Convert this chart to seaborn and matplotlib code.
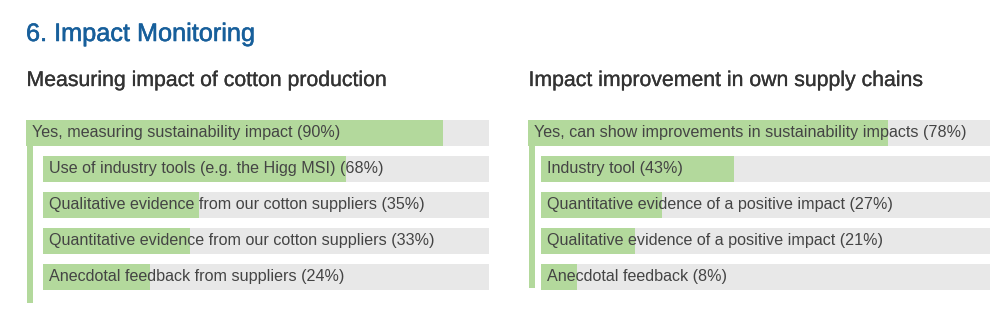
import matplotlib
matplotlib.use("Agg")
import matplotlib.pyplot as plt
import matplotlib.patheffects as pe
import seaborn as sns
import pandas as pd
from matplotlib.patches import Rectangle

sns.set_theme(style="white")
plt.rcParams['font.family'] = ['Liberation Sans', 'DejaVu Sans']

title = "6. Impact Monitoring"

left_title = "Measuring impact of cotton production"
left_top_label = "Yes, measuring sustainability impact"
left_top_value = 90
left_labels = ["Use of industry tools (e.g. the Higg MSI)",
               "Qualitative evidence from our cotton suppliers",
               "Quantitative evidence from our cotton suppliers",
               "Anecdotal feedback from suppliers"]
left_values = [68, 35, 33, 24]

right_title = "Impact improvement in own supply chains"
right_top_label = "Yes, can show improvements in sustainability impacts"
right_top_value = 78
right_labels = ["Industry tool",
                "Quantitative evidence of a positive impact",
                "Qualitative evidence of a positive impact",
                "Anecdotal feedback"]
right_values = [43, 27, 21, 8]

GREEN = "#b3d99c"
GRAY = "#e8e8e8"
TEXT = "#444444"
BLUE = "#175f9b"

W, H = 1004, 329
fig = plt.figure(figsize=(W / 100, H / 100), dpi=100)
fig.patch.set_facecolor("white")


def px_axes(x0, y0, x1, y1):
    return fig.add_axes([x0 / W, 1 - y1 / H, (x1 - x0) / W, (y1 - y0) / H])


def draw_bars(ax, labels, values, nrows, bar_frac):
    df = pd.DataFrame({"label": labels, "value": values, "full": [100] * len(values)})
    sns.barplot(data=df, x="full", y="label", color=GRAY, ax=ax, width=bar_frac,
                orient="h", saturation=1, order=labels, linewidth=0)
    sns.barplot(data=df, x="value", y="label", color=GREEN, ax=ax, width=bar_frac,
                orient="h", saturation=1, order=labels, linewidth=0)
    half = bar_frac / 2
    ax.set_xlim(0, 100)
    ax.set_ylim(nrows - 1 + half, -half)
    ax.axis("off")
    for i, (lab, v) in enumerate(zip(labels, values)):
        ax.annotate(f"{lab} ({v}%)", xy=(0, i), xytext=(6, 0), textcoords="offset pixels",
                    va="center", ha="left", fontsize=11.6, color=TEXT)


def panel(x0, x_sub, x1, ptitle, top_label, top_value, labels, values, stripe_bottom):
    fig.text(x0 / W + 0.0005, 1 - 80.5 / H, ptitle, fontsize=15.3, color="#333333",
             va="center", ha="left",
             path_effects=[pe.withStroke(linewidth=0.2, foreground="#333333")])
    ax_top = px_axes(x0, 120, x1, 146)
    draw_bars(ax_top, [top_label], [top_value], 1, 1.0)
    ax_sub = px_axes(x_sub, 156, x1, 290)
    draw_bars(ax_sub, labels, values, 4, 26 / 36)
    fig.add_artist(Rectangle((x0 / W + 1 / W, 1 - stripe_bottom / H), 6 / W,
                             (stripe_bottom - 146) / H, transform=fig.transFigure,
                             facecolor=GREEN, edgecolor="none"))


fig.text(26 / W, 1 - 34 / H, title, fontsize=18.2, color=BLUE, va="center", ha="left",
         path_effects=[pe.withStroke(linewidth=0.4, foreground=BLUE)])

panel(26, 43, 489, left_title, left_top_label, left_top_value, left_labels, left_values, 303)
panel(528, 541, 990, right_title, right_top_label, right_top_value, right_labels, right_values, 288)

fig.savefig("out.png", dpi=100, facecolor="white")
